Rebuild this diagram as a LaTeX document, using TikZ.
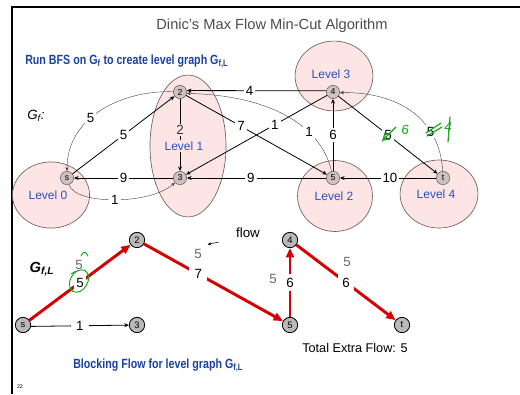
\documentclass[tikz,border=0pt]{standalone}
\usepackage{fontspec}
\setmainfont{Liberation Sans}
\usepackage{graphicx}
\usetikzlibrary{arrows.meta, calc}

\definecolor{levelfill}{RGB}{253,229,229}
\definecolor{levelrim}{RGB}{115,95,95}
\definecolor{levelblue}{RGB}{45,80,185}
\definecolor{headblue}{RGB}{25,65,165}
\definecolor{vtxfill}{RGB}{205,192,192}
\definecolor{vtxrim}{RGB}{105,95,95}
\definecolor{flowred}{RGB}{215,0,0}
\definecolor{penGreen}{RGB}{20,165,30}

\begin{document}
\begin{tikzpicture}[
    x=0.75pt, y=-0.75pt,
    lvl/.style={draw=levelrim, fill=levelfill, line width=0.5pt},
    lvltxt/.style={text=levelblue, font=\fontsize{9}{10}\selectfont, inner sep=1pt},
    vtx/.style={circle, draw=vtxrim, fill=vtxfill, minimum size=10pt,
                inner sep=0pt, font=\fontsize{6.5}{7}\selectfont},
    bvtx/.style={circle, draw=black, fill=gray!55, line width=0.6pt,
                 minimum size=11.5pt, inner sep=0pt, font=\fontsize{7}{8}\selectfont},
    res/.style={-{Stealth[length=3.5pt, width=3pt]}, line width=0.6pt},
    resarc/.style={-{Stealth[length=3pt, width=2.5pt]}, line width=0.3pt, black!75},
    wt/.style={fill=white, text=black, inner sep=1.5pt, font=\fontsize{10}{10}\selectfont},
    flowval/.style={text=black!60, font=\fontsize{10}{10}\selectfont},
    blocking/.style={-{Triangle[length=7pt, width=6pt]}, line width=2.2pt, flowred},
    pen/.style={penGreen, line width=0.9pt, line cap=round},
    pentxt/.style={text=penGreen, font=\fontsize{10}{10}\selectfont\itshape},
    head/.style={text=headblue, font=\fontsize{10}{11}\selectfont\bfseries, inner sep=0pt},
    >=Stealth
  ]
  \useasboundingbox (0,0) rectangle (520,394);
  \draw[line width=2pt] (12,394) -- (12,7) -- (520,7);

  \node[text=black!70, font=\fontsize{11}{12}\selectfont] (title) at (272,26)
    {Dinic's Max Flow Min-Cut Algorithm};
  \node[head, anchor=west] (runbfs) at (25,61)
    {\scalebox{0.8}[1]{Run BFS on G\textsubscript{f} to create level graph G\textsubscript{f,L}}};

  % levels
  \draw[lvl] (51,195) ellipse [x radius=28.9pt, y radius=24.8pt];
  \draw[lvl] (188,146) ellipse [x radius=28.5pt, y radius=53.2pt];
  \draw[lvl] (335,196) ellipse [x radius=28.1pt, y radius=26.6pt];
  \draw[lvl] (334,76) ellipse [x radius=29.2pt, y radius=26.2pt];
  \draw[lvl] (439,194) ellipse [x radius=29.2pt, y radius=25.5pt];

  \node[font=\fontsize{10}{10}\selectfont\itshape] (gf) at (36,116) {G\textsubscript{f}:};

  \foreach \nm/\x/\y/\txt in {s/67/178/s, n2/180/92/2, n3/180/178/3,
                              n4/333/92/4, n5/333/178/5, t/443/178/t}
    \node[vtx] (\nm) at (\x,\y) {\txt};

  \draw[res] (n4.170) -- node[wt, pos=0.55] {4} (n2.12);
  \draw[res] (s) -- node[wt] {5} (n2);
  \draw[res] (n2) -- (n3);
  \draw[res] (n2) -- node[wt, pos=0.39] {7} (n5);
  \draw[res] (n4) -- node[wt, pos=0.37] {1} (n3);
  \draw[res] (n5) -- node[wt] {6} (n4);
  \draw[res] (n4) -- node[wt] (c4t) {5} (t);
  \draw[res] (n3) -- node[wt] {9} (s);
  \draw[res] (n5) -- node[wt, pos=0.54] {9} (n3);
  \draw[res] (t) -- node[wt, pos=0.48] {10} (n5);

  \draw[resarc] (n2) .. controls (125,90) and (67,115) .. node[wt, pos=0.6] {5} (s);
  \draw[resarc] (n5) .. controls (320,120) and (260,95) .. node[wt, pos=0.3] {1} (n2.-12);
  \draw[resarc] (t) .. controls (440,120) and (400,92) .. node[wt, pos=0.3] (ct4) {5} (n4.-5);
  \draw[resarc] (s) .. controls (75,205) and (150,205) .. node[wt] {1} (n3);

  \node[lvltxt, fill=levelfill] at (180,130) {\fontsize{10}{10}\selectfont\color{black!80}2};
  \node[lvltxt, fill=levelfill] at (184,146) {Level 1};
  \node[lvltxt] at (48,195) {Level 0};
  \node[lvltxt] at (334,196) {Level 2};
  \node[lvltxt] at (331,74) {Level 3};
  \node[lvltxt] at (436,194) {Level 4};

  % pen marks
  \draw[pen] (396,127) -- (383,140) -- (385,133);
  \draw[pen] (383,140) -- (390,139);
  \node[pentxt] at (405,130) {6};
  \draw[pen] (426,133) -- (441,123);
  \draw[pen] (427,136) -- (442,127);
  \node[pentxt] at (448,127) {4};
  \draw[pen] (450,117) -- (448,142);

  % level graph with blocking flow
  \node[font=\fontsize{11}{11}\selectfont\bfseries\itshape] (gfl) at (42,269) {G\textsubscript{f,L}};

  \foreach \nm/\x/\y/\txt in {bs/23/325/s, b2/137/240/2, b3/137/325/3,
                              b4/290/240/4, b5/290/325/5, bt/402/325/t}
    \node[bvtx] (\nm) at (\x,\y) {\txt};

  \draw[blocking] (bs) -- node[wt, pos=0.5] {5} (b2);
  \draw[blocking] (b2) -- node[wt, pos=0.39, inner sep=4pt] {7} (b5);
  \draw[blocking] (b5) -- node[wt, inner sep=2.5pt] {6} (b4);
  \draw[blocking] (b4) -- node[wt, inner sep=3.5pt] {6} (bt);
  \draw[res] (bs.-10) -- node[wt, inner sep=4pt] {1} (b3);

  \node[flowval] (f1) at (79,265) {5};
  \node[flowval] (f2) at (198,254) {5};
  \node[flowval] (f3) at (273,279) {5};
  \node[flowval] (f4) at (347,262) {5};

  \node[font=\fontsize{10}{10}\selectfont] (flowtxt) at (248,233) {flow};
  \coordinate (flowtail) at (219,242);
  \draw[-{Stealth[length=2.5pt, width=2.5pt]}, line width=0.4pt,
        shorten >=1pt] (flowtail) -- (f2.north east);

  \draw[pen, line width=0.7pt] (79,281) ellipse [x radius=6.5pt, y radius=9pt, rotate=-30];
  \draw[pen, line width=0.7pt] (81,256) .. controls (83,251) and (86,251) .. (88,256);
  \draw[pen, line width=0.7pt] (71,274) -- (76,271);

  \node[font=\fontsize{9.5}{10}\selectfont] (total) at (355,348) {Total Extra Flow: 5};
  \node[head, anchor=west] (blockhead) at (73,365)
    {\scalebox{0.8}[1]{Blocking Flow for level graph G\textsubscript{f,L}}};
  \node[font=\fontsize{4}{4}\selectfont] (pgno) at (20,387) {22};
\end{tikzpicture}
\end{document}
